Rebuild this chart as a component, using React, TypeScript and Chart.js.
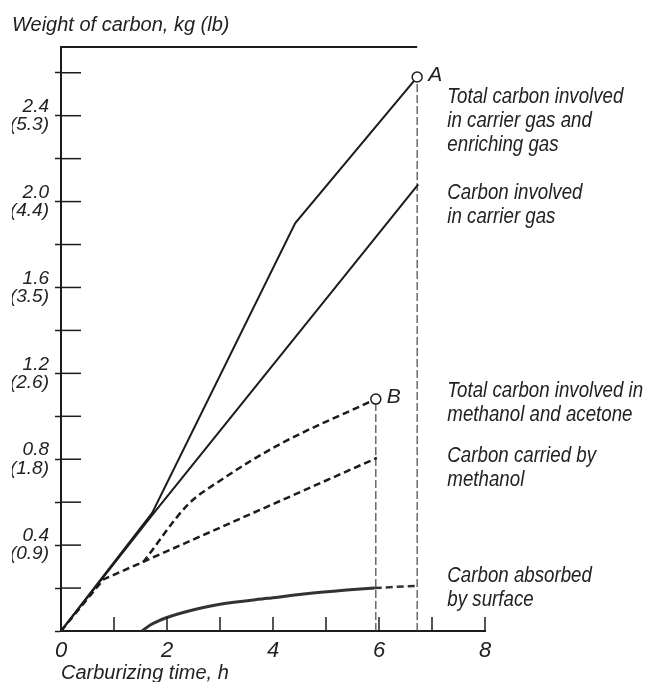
import React, { useEffect, useRef } from "react";
import { Chart, registerables } from "chart.js";

Chart.register(...registerables);

const FONT = "'Liberation Sans Narrow', 'Liberation Sans', Arial, sans-serif";
const INK = "#1c1c1c";

// Carburizing time (h) / weight of carbon (kg)
const combinedX = [0, 1.72, 4.42, 6.72];
const combinedY = [0, 0.55, 1.9, 2.58];
const carrierX = [0, 1.72, 6.74];
const carrierY = [0, 0.54, 2.08];
const methAcetX = [1.55, 2.4, 3.0, 4.13, 5.94];
const methAcetY = [0.32, 0.59, 0.7, 0.87, 1.08];
const methanolX = [0, 0.8, 5.96];
const methanolY = [0, 0.24, 0.806];
const absorbedX = [1.53, 1.7, 2.0, 2.6, 3.0, 3.9, 4.9, 5.92, 6.72];
const absorbedY = [0, 0.03, 0.063, 0.105, 0.125, 0.152, 0.18, 0.2, 0.21];

const xTicks = [0, 1, 2, 3, 4, 5, 6, 7, 8];
const xLabelValues = [0, 2, 4, 6, 8];
const xLabels = ["0", "2", "4", "6", "8"];
const yTicks = [0, 0.2, 0.4, 0.6, 0.8, 1.0, 1.2, 1.4, 1.6, 1.8, 2.0, 2.2, 2.4, 2.6];
const yLabelValues = [0.4, 0.8, 1.2, 1.6, 2.0, 2.4];
const yLabelsKg = ["0.4", "0.8", "1.2", "1.6", "2.0", "2.4"];
const yLabelsLb = ["(0.9)", "(1.8)", "(2.6)", "(3.5)", "(4.4)", "(5.3)"];

const noteLines = [
  ["Total carbon involved", "in carrier gas and", "enriching gas"],
  ["Carbon involved", "in carrier gas"],
  ["Total carbon involved in", "methanol and acetone"],
  ["Carbon carried by", "methanol"],
  ["Carbon absorbed", "by surface"],
];
const noteY = [2.46, 2.01, 1.09, 0.788, 0.228];
const NOTE_X = 7.29;
const pointLetters = ["A", "B"];

const pts = (xs: number[], ys: number[]) => xs.map((x, i) => ({ x, y: ys[i] }));
const last = (a: number[]) => a[a.length - 1];

export default function App() {
  const ref = useRef<HTMLCanvasElement | null>(null);
  useEffect(() => {
    if (!ref.current) return;
    const tB = last(methAcetX);
    const decor = {
      id: "decor",
      afterDraw(chart: any) {
        const { ctx, chartArea } = chart;
        const x = chart.scales.x;
        const y = chart.scales.y;
        ctx.save();
        ctx.strokeStyle = INK;
        ctx.lineWidth = 1.5;
        y.ticks.forEach((t: any) => {
          if (t.value === 0) return;
          const py = y.getPixelForValue(t.value);
          ctx.beginPath();
          ctx.moveTo(chartArea.left, py);
          ctx.lineTo(chartArea.left + 20, py);
          ctx.stroke();
        });
        x.ticks.forEach((t: any) => {
          if (t.value === 0) return;
          const px = x.getPixelForValue(t.value);
          ctx.beginPath();
          ctx.moveTo(px, chartArea.bottom);
          ctx.lineTo(px, chartArea.bottom - 14);
          ctx.stroke();
        });
        ctx.lineWidth = 2;
        ctx.beginPath();
        ctx.moveTo(chartArea.left, chartArea.top);
        ctx.lineTo(x.getPixelForValue(last(combinedX)), chartArea.top);
        ctx.stroke();

        ctx.fillStyle = "#222";
        ctx.font = `italic 22px ${FONT}`;
        ctx.textAlign = "left";
        ctx.textBaseline = "alphabetic";
        const nx = x.getPixelForValue(NOTE_X);
        const sx = 0.85;
        noteLines.forEach((lines, i) => {
          const by = y.getPixelForValue(noteY[i]);
          lines.forEach((ln, j) => {
            ctx.save();
            ctx.translate(nx, by + j * 24);
            ctx.scale(sx, 1);
            ctx.fillText(ln, 0, 0);
            ctx.restore();
          });
        });

        ctx.font = `italic 21px ${FONT}`;
        ctx.textAlign = "center";
        ctx.textBaseline = "middle";
        [0, 2].forEach((di, k) => {
          const meta = chart.getDatasetMeta(di);
          const el = meta.data[meta.data.length - 1];
          ctx.fillText(pointLetters[k], el.x + 18, el.y - 2);
        });
        ctx.restore();
      },
    };

    const endCircle = (c: any) => (c.dataIndex === c.dataset.data.length - 1 ? 5 : 0);

    const chart = new Chart(ref.current, {
      type: "line",
      data: {
        datasets: [
          {
            data: pts(combinedX, combinedY),
            borderColor: INK,
            borderWidth: 2,
            pointRadius: endCircle,
            pointBackgroundColor: "#fff",
            pointBorderColor: INK,
            pointBorderWidth: 1.5,
            tension: 0,
          },
          {
            data: pts(carrierX, carrierY),
            borderColor: INK,
            borderWidth: 2,
            pointRadius: 0,
            tension: 0,
          },
          {
            data: pts(methAcetX, methAcetY),
            borderColor: INK,
            borderWidth: 2.5,
            borderDash: [7, 4],
            pointRadius: endCircle,
            pointBackgroundColor: "#fff",
            pointBorderColor: INK,
            pointBorderWidth: 1.5,
            cubicInterpolationMode: "monotone",
          },
          {
            data: pts(methanolX, methanolY),
            borderColor: INK,
            borderWidth: 2.5,
            borderDash: [7, 4],
            pointRadius: 0,
            tension: 0,
          },
          {
            data: pts(absorbedX, absorbedY),
            borderColor: "#333",
            borderWidth: 3,
            pointRadius: 0,
            cubicInterpolationMode: "monotone",
            segment: {
              borderDash: (c: any) => (c.p0.parsed.x >= tB - 0.05 ? [7, 4] : undefined),
              borderWidth: (c: any) => (c.p0.parsed.x >= tB - 0.05 ? 2.5 : 3),
            },
          },
          {
            data: [
              { x: last(combinedX), y: 0 },
              { x: last(combinedX), y: last(combinedY) },
            ],
            borderColor: "#444",
            borderWidth: 1.2,
            borderDash: [8, 3],
            pointRadius: 0,
          },
          {
            data: [
              { x: tB, y: 0 },
              { x: tB, y: last(methAcetY) },
            ],
            borderColor: "#444",
            borderWidth: 1.2,
            borderDash: [8, 3],
            pointRadius: 0,
          },
        ],
      },
      options: {
        animation: false,
        responsive: true,
        maintainAspectRatio: false,
        layout: { padding: { left: 4, right: 158, top: 0, bottom: 0 } },
        plugins: {
          legend: { display: false },
          tooltip: { enabled: false },
          title: {
            display: true,
            text: "Weight of carbon, kg (lb)",
            align: "start",
            color: "#222",
            font: { family: FONT, size: 20, style: "italic", weight: "normal" },
            padding: { top: 5, bottom: 10 },
          },
        },
        scales: {
          x: {
            type: "linear",
            min: 0,
            max: 8,
            afterBuildTicks: (s: any) => {
              s.ticks = xTicks.map((v) => ({ value: v }));
            },
            afterFit: (s: any) => {
              s.height = 51;
            },
            grid: { display: true, drawOnChartArea: false, drawTicks: false },
            border: { display: true, color: INK, width: 2 },
            ticks: {
              padding: 7,
              color: "#222",
              font: { family: FONT, size: 22, style: "italic" },
              autoSkip: false,
              maxRotation: 0,
              callback: (v: any) => {
                const i = xLabelValues.indexOf(Number(v));
                return i >= 0 ? xLabels[i] : "";
              },
            },
            title: {
              display: true,
              text: "Carburizing time, h",
              align: "start",
              color: "#222",
              font: { family: FONT, size: 20, style: "italic", lineHeight: 0.9 },
              padding: { top: 0, bottom: 0 },
            },
          },
          y: {
            type: "linear",
            min: 0,
            max: 2.72,
            afterBuildTicks: (s: any) => {
              s.ticks = yTicks.map((v) => ({ value: v }));
            },
            afterFit: (s: any) => {
              s.width = 49;
            },
            grid: {
              display: true,
              drawOnChartArea: false,
              drawTicks: true,
              tickLength: 6,
              tickColor: INK,
              tickWidth: 1.5,
            },
            border: { display: true, color: INK, width: 2 },
            ticks: {
              padding: 6,
              color: "#222",
              font: { family: FONT, size: 19, style: "italic", lineHeight: 0.95 },
              autoSkip: false,
              callback: (v: any) => {
                const i = yLabelValues.findIndex((t) => Math.abs(t - Number(v)) < 1e-6);
                return i >= 0 ? [yLabelsKg[i], yLabelsLb[i]] : "";
              },
            },
          },
        },
      },
      plugins: [decor],
    } as any);
    return () => chart.destroy();
  }, []);

  return (
    <div style={{ position: "relative", width: 635, height: 674 }}>
      <canvas ref={ref} />
    </div>
  );
}
